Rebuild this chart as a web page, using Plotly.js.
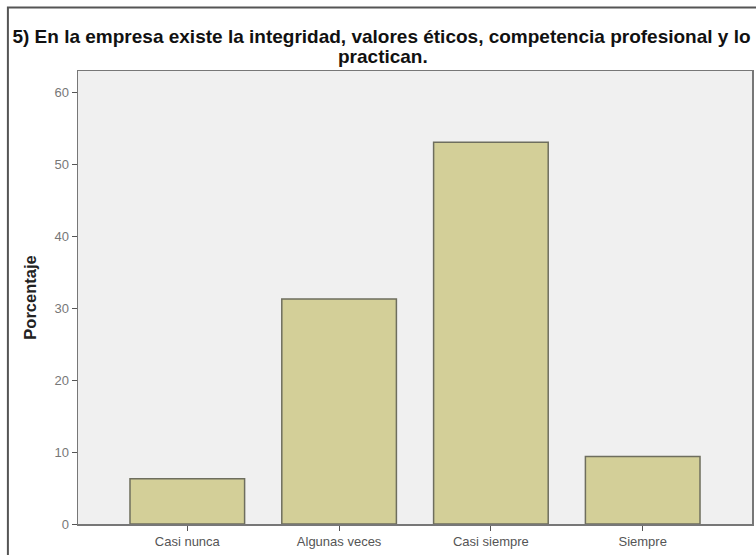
<!DOCTYPE html>
<html>
<head>
<meta charset="utf-8">
<script src="https://cdn.plot.ly/plotly-3.0.1.min.js"></script>
<style>html,body{margin:0;padding:0;background:#fff;}#chart{width:756px;height:555px;}</style>
</head>
<body>
<div id="chart"></div>
<script>
const categories = ["Casi nunca", "Algunas veces", "Casi siempre", "Siempre"];
const porcentajes = [6.3, 31.3, 53.1, 9.4];
const yTicks = [0, 10, 20, 30, 40, 50, 60];
const titleLine1 = "5) En la empresa existe la integridad, valores éticos, competencia profesional y lo";
const titleLine2 = "practican.";

const titleFont = { family: "Liberation Sans, Arial, sans-serif", size: 19, color: "#111" };

const trace = {
  type: "bar",
  x: categories,
  y: porcentajes,
  marker: { color: "#d3cf98", line: { color: "#6e6e5e", width: 1.5 } },
  hoverinfo: "x+y"
};

const layout = {
  width: 756, height: 555,
  margin: { l: 78, r: 4, t: 71, b: 31 },
  paper_bgcolor: "#ffffff",
  plot_bgcolor: "#f0f0f0",
  bargap: 0.245,
  showlegend: false,
  title: {
    text: "<b>" + titleLine1 + "</b>",
    font: titleFont,
    x: 381.5 / 756, xanchor: "center", xref: "container",
    y: 1 - 36 / 555, yanchor: "middle", yref: "container"
  },
  annotations: [{
    text: "<b>" + titleLine2 + "</b>",
    font: titleFont,
    xref: "paper", yref: "paper",
    x: (383 - 78) / 674, y: (524 - 56.5) / 453,
    xanchor: "center", yanchor: "middle", showarrow: false
  }],
  xaxis: {
    type: "category",
    range: [-0.72, 3.72],
    showline: true, linecolor: "#777", linewidth: 1.5, mirror: true,
    ticks: "outside", ticklen: 5, tickcolor: "#555",
    tickfont: { family: "Liberation Sans, Arial, sans-serif", size: 13, color: "#555" },
    showgrid: false, zeroline: false, fixedrange: true
  },
  yaxis: {
    range: [0, 63],
    tickvals: yTicks,
    ticktext: yTicks.map(String),
    showline: true, linecolor: "#777", linewidth: 1.5, mirror: true,
    ticks: "outside", ticklen: 5, tickcolor: "#555",
    tickfont: { family: "Liberation Sans, Arial, sans-serif", size: 13, color: "#777" },
    showgrid: false, zeroline: false, fixedrange: true,
    title: { text: "<b>Porcentaje</b>", standoff: 13,
      font: { family: "Liberation Sans, Arial, sans-serif", size: 16.5, color: "#222" } }
  },
  shapes: [{
    type: "rect", xref: "paper", yref: "paper",
    x0: -0.104, x1: 1.2, y0: -0.3, y1: 1.14,
    line: { color: "#555", width: 2 }, fillcolor: "rgba(0,0,0,0)", layer: "below"
  }]
};

Plotly.newPlot("chart", [trace], layout, { displayModeBar: false, staticPlot: true });
</script>
</body>
</html>
